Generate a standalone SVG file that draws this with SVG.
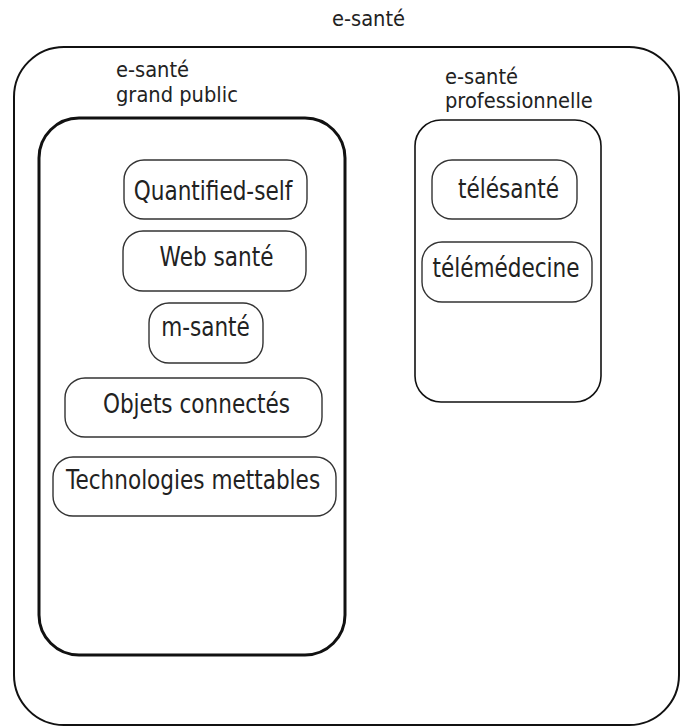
<svg xmlns="http://www.w3.org/2000/svg" width="680" height="727" viewBox="0 0 680 727">
<style>
.lbl{font-family:"DejaVu Sans","Liberation Sans",sans-serif;font-size:19.5px;fill:#222}
.bt{font-family:"DejaVu Sans","Liberation Sans",sans-serif;font-size:21.6px;fill:#222;text-anchor:middle}
.item{fill:#fff;stroke:#333;stroke-width:1.4}
</style>
<rect width="680" height="727" fill="#fff"/>
<g id="esante">
<rect x="14" y="47" width="665" height="678" rx="50" ry="50" fill="none" stroke="#111" stroke-width="2"/>
<text class="lbl" transform="translate(368.5,26) scale(1,1.12)" text-anchor="middle">e-santé</text>
</g>
<g id="grand-public">
<rect x="39" y="118" width="306" height="537" rx="40" ry="40" fill="none" stroke="#111" stroke-width="3"/>
<text class="lbl" transform="translate(116,77) scale(1,1.12)">e-santé</text>
<text class="lbl" transform="translate(116,102) scale(1,1.12)">grand public</text>
</g>
<g id="professionnelle">
<rect x="415" y="120" width="186" height="282" rx="26" ry="26" fill="none" stroke="#111" stroke-width="1.6"/>
<text class="lbl" transform="translate(445,84) scale(1,1.12)">e-santé</text>
<text class="lbl" transform="translate(445,108) scale(1,1.12)">professionnelle</text>
</g>
<g id="quantified-self">
<rect class="item" x="124" y="160" width="183" height="59" rx="20"/>
<text class="bt" transform="translate(213,200) scale(1,1.25)">Quantified-self</text>
</g>
<g id="web-sante">
<rect class="item" x="123" y="231" width="183" height="60" rx="20"/>
<text class="bt" transform="translate(216.5,266) scale(1,1.25)">Web santé</text>
</g>
<g id="m-sante">
<rect class="item" x="149" y="303" width="114" height="60" rx="20"/>
<text class="bt" transform="translate(205.5,336) scale(1,1.25)">m-santé</text>
</g>
<g id="objets-connectes">
<rect class="item" x="65" y="378" width="257" height="59" rx="20"/>
<text class="bt" transform="translate(196.5,413) scale(1,1.25)">Objets connectés</text>
</g>
<g id="technologies-mettables">
<rect class="item" x="53" y="457" width="283" height="59" rx="20"/>
<text class="bt" transform="translate(193,489) scale(1,1.25)">Technologies mettables</text>
</g>
<g id="telesante">
<rect class="item" x="432" y="160" width="145" height="59" rx="20"/>
<text class="bt" transform="translate(508.5,198) scale(1,1.25)">télésanté</text>
</g>
<g id="telemedecine">
<rect class="item" x="422" y="242" width="170" height="60" rx="20"/>
<text class="bt" transform="translate(506,277) scale(1,1.25)">télémédecine</text>
</g>
<g id="connectors"></g>
</svg>
